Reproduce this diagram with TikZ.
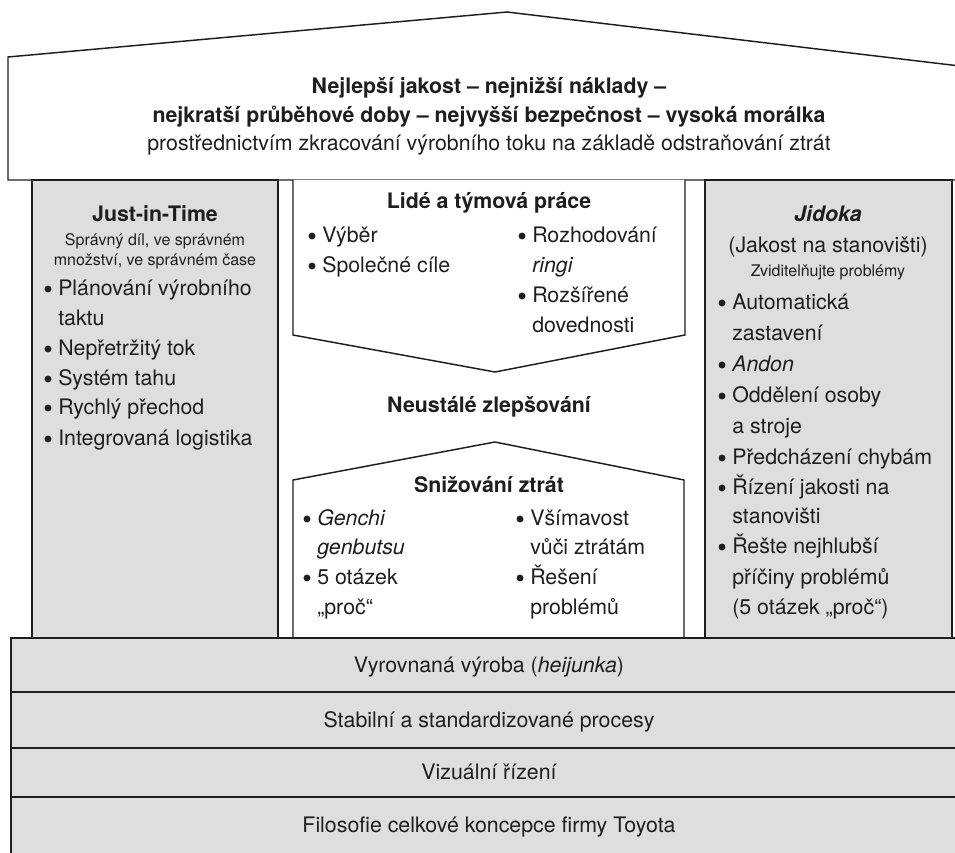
\documentclass[tikz,border=0pt]{standalone}
\usepackage{fontspec}
\setmainfont{TeX Gyre Heros}
\definecolor{pillargray}{RGB}{222,222,222}
\definecolor{ink}{RGB}{30,30,30}
\newcommand\fmain{\fontsize{16}{19}\selectfont}
\newcommand\fsmall{\fontsize{12}{14}\selectfont}
% bullet item: name, x, y (baseline), text
\newcommand\bitem[4]{%
  \node[ltext] (#1) at (#2,#3) {#4};
  \fill[ink] ([shift={(-10,-6)}]#1.base west) circle (2.6pt);}
\begin{document}
\begin{tikzpicture}[x=0.75pt,y=-0.75pt,
  outline/.style={draw=ink, line width=1.1pt, line join=miter},
  grayfill/.style={outline, fill=pillargray},
  ctext/.style={inner sep=0pt, anchor=base, font=\fmain, text=ink},
  btext/.style={ctext, font=\fmain\bfseries},
  stext/.style={ctext, font=\fsmall},
  ltext/.style={inner sep=0pt, anchor=base west, font=\fmain, text=ink}]
\useasboundingbox (0,0) rectangle (955,852);
\begin{scope}
\clip (0,0) rectangle (955,852);
% roof
\draw[outline, fill=white] (8,180) -- (8,57) -- (507,12) -- (1010,72) -- (1010,180) -- cycle;
% pillars
\draw[grayfill] (32,180) rectangle (278,638);
\draw[grayfill] (705,180) rectangle (952,638);
% centre boxes
\draw[outline, fill=white] (293,180) -- (293,335) -- (495,372) -- (685,335) -- (685,180);
\draw[outline, fill=white] (293,638) -- (293,480) -- (495,442) -- (684,480) -- (684,638);
% foundation bands
\draw[grayfill] (11,638) rectangle (1000,692);
\draw[grayfill] (11,692) rectangle (1000,748);
\draw[grayfill] (11,748) rectangle (1000,797);
\draw[grayfill] (11,797) rectangle (1000,900);
\end{scope}

% roof text
\node[btext] (r1) at (489,94) {Nejlepší jakost – nejnižší náklady –};
\node[btext] (r2) at (489,123) {nejkratší průběhové doby – nejvyšší bezpečnost – vysoká morálka};
\node[ctext] (r3) at (489,151) {prostřednictvím zkracování výrobního toku na základě odstraňování ztrát};

% left pillar
\node[btext] (jit) at (155,222) {Just-in-Time};
\node[stext] (jit1) at (155,245) {Správný díl, ve správném};
\node[stext] (jit2) at (155,265) {množství, ve správném čase};
\bitem{l1}{58}{295}{Plánování výrobního}
\node[ltext] (l2) at (58,325) {taktu};
\bitem{l3}{58}{355}{Nepřetržitý tok}
\bitem{l4}{58}{385}{Systém tahu}
\bitem{l5}{58}{414}{Rychlý přechod}
\bitem{l6}{58}{445}{Integrovaná logistika}

% centre top
\node[btext] (ppl) at (489,209) {Lidé a týmová práce};
\bitem{c1}{322}{242}{Výběr}
\bitem{c2}{322}{272}{Společné cíle}
\bitem{c3}{532}{242}{Rozhodování}
\node[ltext] (c4) at (532,272) {\itshape ringi};
\bitem{c5}{532}{302}{Rozšířené}
\node[ltext] (c6) at (532,332) {dovednosti};

\node[btext] (kaizen) at (489,412) {Neustálé zlepšování};

% centre bottom
\node[btext] (waste) at (489,492) {Snižování ztrát};
\bitem{w1}{317}{525}{\itshape Genchi}
\node[ltext] (w2) at (317,554) {\itshape genbutsu};
\bitem{w3}{317}{584}{5 otázek}
\node[ltext] (w4) at (317,614) {„proč“};
\bitem{w5}{530}{525}{Všímavost}
\node[ltext] (w6) at (530,554) {vůči ztrátám};
\bitem{w7}{530}{584}{Řešení}
\node[ltext] (w8) at (530,614) {problémů};

% right pillar
\node[btext, font=\fmain\bfseries\itshape] (jid) at (828,222) {Jidoka};
\node[ctext] (jid1) at (828,252) {(Jakost na stanovišti)};
\node[stext] (jid2) at (828,276) {Zviditelňujte problémy};
\bitem{j1}{732}{309}{Automatická}
\node[ltext] (j2) at (732,340) {zastavení};
\bitem{j3}{732}{371}{\itshape Andon}
\bitem{j4}{732}{402}{Oddělení osoby}
\node[ltext] (j5) at (732,433) {a stroje};
\bitem{j6}{732}{464}{Předcházení chybám}
\bitem{j7}{732}{494}{Řízení jakosti na}
\node[ltext] (j8) at (732,523) {stanovišti};
\bitem{j9}{732}{553}{Řešte nejhlubší}
\node[ltext] (j10) at (732,584) {příčiny problémů};
\node[ltext] (j11) at (732,614) {(5 otázek „proč“)};

% foundation text
\node[ctext] (f1) at (489,672) {Vyrovnaná výroba (\textit{heijunka})};
\node[ctext] (f2) at (489,727) {Stabilní a standardizované procesy};
\node[ctext] (f3) at (489,779) {Vizuální řízení};
\node[ctext] (f4) at (489,832) {Filosofie celkové koncepce firmy Toyota};
\end{tikzpicture}
\end{document}
